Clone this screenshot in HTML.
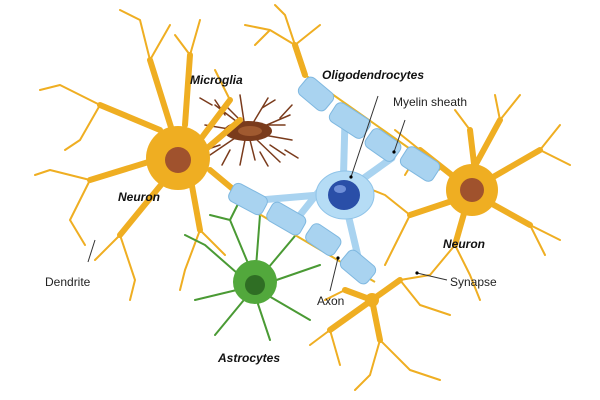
<!DOCTYPE html>
<html><head><meta charset="utf-8"><style>
html,body{margin:0;padding:0;background:#fff;width:600px;height:400px;overflow:hidden}
svg{display:block}
text{font-family:"Liberation Sans",sans-serif;font-size:12px;fill:#222}
.b{font-weight:bold;font-style:italic;fill:#111}
</style></head><body>
<svg width="600" height="400" viewBox="0 0 600 400">
<!-- microglia -->
<g stroke="#7a3b1c" fill="none" stroke-width="1.5" stroke-linecap="round">
<path d="M245 128 L215 105 M245 128 L240 95 M250 128 L268 98 M255 130 L290 115 M258 134 L292 140 M255 138 L280 162 M245 140 L240 165 M238 136 L210 155 M235 130 L205 125 M225 115 L215 100 M262 108 L275 100 M280 118 L292 105 M285 150 L298 158 M230 150 L222 165 M212 105 L200 98 M260 152 L268 166 M220 145 L205 150 M270 145 L285 155 M250 140 L255 160 M240 120 L228 108 M265 125 L285 125"/>
</g>
<ellipse cx="248" cy="131" rx="24" ry="10" fill="#7a3b1c"/>
<ellipse cx="250" cy="131" rx="12" ry="5" fill="#a05a30"/>
<!-- orange neurons -->
<g stroke="#efae22" fill="none" stroke-linecap="round" stroke-linejoin="round">
<g stroke-width="6">
<path d="M175 140 L150 60 M160 130 L100 105 M155 160 L90 180 M165 180 L120 235 M190 175 L200 230 M205 150 L240 120 M200 140 L230 100 M210 170 L240 195 M185 125 L190 55"/>
<path d="M470 175 L500 120 M458 180 L420 150 M455 200 L410 215 M465 210 L455 245 M485 200 L530 225 M488 180 L540 150 M475 172 L470 130"/>
<path d="M372 300 L345 290 M372 300 L380 340 M372 300 L400 280 M372 300 L330 330"/>
<path d="M305 75 L295 45"/>
</g>
<g stroke-width="2">
<path d="M150 60 L140 20 M150 60 L170 25 M140 20 L120 10 M100 105 L60 85 M60 85 L40 90 M100 105 L80 140 M90 180 L50 170 M90 180 L70 220 M70 220 L85 245 M120 235 L95 260 M120 235 L135 280 M200 230 L185 270 M200 230 L225 255 M230 100 L215 70 M190 55 L200 20 M190 55 L175 35 M240 195 L275 200 M80 140 L65 150 M50 170 L35 175 M135 280 L130 300 M185 270 L180 290"/>
<path d="M500 120 L495 95 M500 120 L520 95 M420 150 L395 130 M410 215 L385 195 M410 215 L395 245 M455 245 L430 275 M455 245 L470 275 M530 225 L560 240 M530 225 L545 255 M540 150 L560 125 M540 150 L570 165 M470 130 L455 110 M420 150 L405 175 M385 195 L360 185 M395 245 L385 265 M470 275 L480 300"/>
<path d="M380 340 L370 375 M380 340 L410 370 M400 280 L430 275 M400 280 L420 305 M330 330 L310 345 M330 330 L340 365 M345 290 L325 300 M410 370 L440 380 M420 305 L450 315 M370 375 L355 390"/>
<path d="M295 45 L270 30 M295 45 L285 15 M295 45 L320 25 M270 30 L255 45 M285 15 L275 5 M270 30 L245 25"/>
</g>
</g>
<circle cx="178" cy="158" r="32" fill="#efae22"/>
<circle cx="178" cy="160" r="13" fill="#a0522d"/>
<circle cx="472" cy="190" r="26" fill="#efae22"/>
<circle cx="472" cy="190" r="12" fill="#a0522d"/>
<circle cx="372" cy="300" r="7" fill="#efae22"/>
<!-- astrocyte -->
<g stroke="#4a9a34" fill="none" stroke-width="2" stroke-linecap="round">
<path d="M255 280 L230 220 M255 280 L260 215 M258 280 L300 230 M262 285 L320 265 M262 292 L310 320 M255 295 L270 340 M248 295 L215 335 M245 288 L195 300 M245 280 L205 245 M230 220 L210 215 M260 215 L245 205 M300 230 L290 215 M230 220 L240 200 M205 245 L185 235"/>
</g>
<circle cx="255" cy="282" r="22" fill="#52a83c"/>
<circle cx="255" cy="285" r="10" fill="#2f6e24"/>
<!-- oligodendrocyte -->
<g stroke="#a9d3f0" stroke-width="7" fill="none" stroke-linecap="round">
<path d="M343 193 L345 120 M343 193 L392 158 M343 193 L260 200 M343 193 L360 265 M320 190 L300 215"/>
</g>
<g stroke="#e9b325" stroke-width="2"><path d="M305 75 L440 170 M232 198 L375 282"/></g>
<g fill="#a9d3f0" stroke="#7fb8e0" stroke-width="1">
<rect x="299" y="83" width="34" height="22" rx="6" transform="rotate(40 316 94)"/>
<rect x="330" y="109" width="40" height="22" rx="6" transform="rotate(33 349 120)"/>
<rect x="366" y="134" width="34" height="22" rx="6" transform="rotate(35 383 145)"/>
<rect x="401" y="153" width="38" height="22" rx="6" transform="rotate(33 420 164)"/>
<rect x="229" y="189" width="38" height="20" rx="6" transform="rotate(28 248 199)"/>
<rect x="267" y="208" width="38" height="21" rx="6" transform="rotate(30 286 219)"/>
<rect x="306" y="229" width="34" height="21" rx="6" transform="rotate(34 323 240)"/>
<rect x="341" y="256" width="34" height="22" rx="6" transform="rotate(40 358 267)"/>
</g>
<ellipse cx="345" cy="195" rx="29" ry="24" fill="#b5dcf5" stroke="#8fc3e8"/>
<ellipse cx="344" cy="195" rx="16" ry="15" fill="#2a4fa8"/>
<ellipse cx="340" cy="189" rx="6" ry="4" fill="#6f8fd8"/>
<!-- leader lines -->
<g stroke="#333" stroke-width="1" fill="none">
<path d="M378 96 L351 177 M405 120 L394 152 M95 240 L88 262 M417 273 L447 280 M338 258 L330 291"/>
</g>
<circle cx="351" cy="177" r="1.6"/><circle cx="394" cy="152" r="1.6"/><circle cx="417" cy="273" r="1.6"/><circle cx="338" cy="258" r="1.6"/>
<!-- labels -->
<text x="190" y="84" class="b">Microglia</text>
<text x="322" y="79" class="b">Oligodendrocytes</text>
<text x="393" y="106">Myelin sheath</text>
<text x="118" y="201" class="b">Neuron</text>
<text x="443" y="248" class="b">Neuron</text>
<text x="45" y="286">Dendrite</text>
<text x="450" y="286">Synapse</text>
<text x="317" y="305">Axon</text>
<text x="218" y="362" class="b">Astrocytes</text>
</svg>
</body></html>
